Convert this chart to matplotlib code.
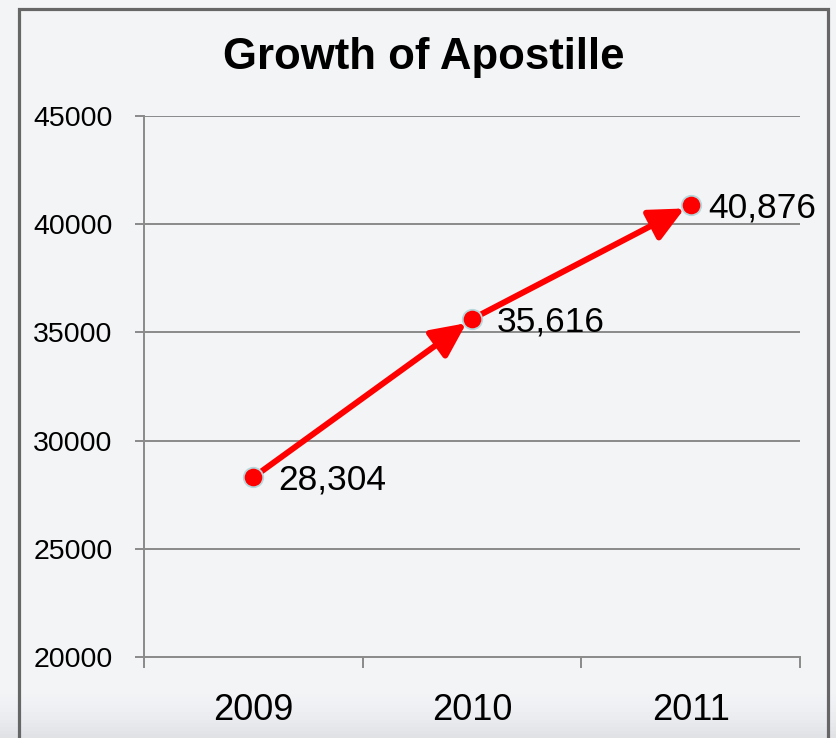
import numpy as np
import matplotlib.pyplot as plt
from matplotlib.patches import Rectangle

# Data
years = ['2009', '2010', '2011']
apostilles = [28304, 35616, 40876]
value_labels = ['28,304', '35,616', '40,876']
y_ticks = [20000, 25000, 30000, 35000, 40000, 45000]

W, H = 836, 738
fig = plt.figure(figsize=(W / 100, H / 100), dpi=100)
fig.patch.set_facecolor('#f3f4f6')

# soft bottom shading like the slide background
bg = fig.add_axes([0, 0, 1, 1], zorder=-10)
grad = np.linspace(0, 1, 200)[:, None]
shade = np.clip((grad - 0.94) / 0.06, 0, 1) ** 1.5
img = np.ones((200, 2, 3)) * np.array([0.953, 0.957, 0.965])
img = img - shade[:, :, None] * np.array([0.07, 0.068, 0.06])
bg.imshow(img, aspect='auto', extent=[0, 1, 0, 1], origin='upper')
bg.axis('off')

# frame border
fig.patches.append(Rectangle((19 / W, -0.05), (828 - 19) / W, 1.05 - 8.5 / H,
                             transform=fig.transFigure, fill=False,
                             edgecolor='#666666', linewidth=2.3, zorder=5))

ax = fig.add_axes([144 / W, 1 - 657 / H, (800 - 144) / W, (657 - 116) / H])
ax.set_facecolor('none')

x = np.arange(len(years))
ax.set_xlim(-0.5, len(years) - 0.5)
ax.set_ylim(y_ticks[0], y_ticks[-1])

for yt in y_ticks[1:]:
    ax.axhline(yt, color='#8a8a8a', linewidth=1.4, zorder=1)

# arrows between consecutive points
for i in range(len(x) - 1):
    ax.annotate('', xy=(x[i + 1], apostilles[i + 1]), xytext=(x[i], apostilles[i]),
                arrowprops=dict(arrowstyle='-|>,head_length=1.05,head_width=0.5',
                                color='red', lw=4.3, shrinkA=0, shrinkB=5,
                                mutation_scale=20),
                zorder=3)

ax.plot(x, apostilles, linestyle='none', marker='o', markersize=14,
        markerfacecolor='red', markeredgecolor='#b5d8dc', markeredgewidth=1.3,
        zorder=4)

for xi, yi, lab, dx in zip(x, apostilles, value_labels, [18, 18, 13]):
    ax.annotate(lab, (xi, yi), xytext=(dx, -2), textcoords='offset points',
                ha='left', va='center', fontsize=25.5,
                family=['Liberation Sans', 'DejaVu Sans'], zorder=5)

for side in ['top', 'right']:
    ax.spines[side].set_visible(False)
for side in ['left', 'bottom']:
    ax.spines[side].set_color('#8a8a8a')
    ax.spines[side].set_linewidth(1.4)

ax.set_yticks(y_ticks)
ax.set_yticklabels([str(v) for v in y_ticks], fontsize=20.5,
                   family=['Liberation Sans', 'DejaVu Sans'])
ax.tick_params(axis='y', length=6.5, width=1.4, color='#8a8a8a', pad=16)

ax.set_xticks(x)
ax.set_xticklabels(years, fontsize=26, family=['Liberation Sans', 'DejaVu Sans'])
ax.tick_params(axis='x', which='major', length=0, pad=26)
ax.set_xticks(np.arange(-0.5, len(years)), minor=True)
ax.tick_params(axis='x', which='minor', length=8, width=1.4, color='#8a8a8a')

fig.text(424 / W, 1 - 58 / H, 'Growth of Apostille', ha='center', va='center',
         fontsize=31.5, fontweight='bold', family=['Liberation Sans', 'DejaVu Sans'])

fig.savefig('out.png', dpi=100, facecolor=fig.get_facecolor())
